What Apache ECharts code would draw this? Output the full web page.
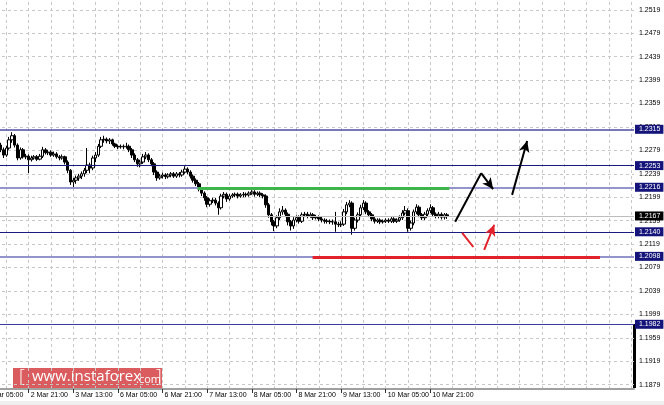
<!DOCTYPE html>
<html><head><meta charset="utf-8">
<script src="https://cdn.jsdelivr.net/npm/echarts@6/dist/echarts.min.js"></script>
<style>html,body{margin:0;padding:0;background:#fff;overflow:hidden;width:664px;height:405px}#c{position:absolute;left:-17px;top:0;width:681px;height:405px}</style>
</head><body><div id="c"></div>
<script>
// ---- data ----
const timeLabels = ['2 Mar 05:00','2 Mar 21:00','3 Mar 13:00','6 Mar 05:00','6 Mar 21:00','7 Mar 13:00','8 Mar 05:00','8 Mar 21:00','9 Mar 13:00','10 Mar 05:00','10 Mar 21:00'];
const slotCount = 234;     // hourly slots incl. future space
const firstCandleSlot = 6; // slot of the first visible candle
// [open, close, low, high]
const candles = [
[1.2288,1.2280,1.2276,1.2292],[1.2280,1.2271,1.2266,1.2284],[1.2271,1.2283,1.2268,1.2287],[1.2283,1.2297,1.2280,1.2302],
[1.2297,1.2304,1.2292,1.2310],[1.2304,1.2288,1.2284,1.2307],[1.2288,1.2266,1.2262,1.2291],[1.2266,1.2280,1.2263,1.2284],
[1.2280,1.2268,1.2265,1.2283],[1.2268,1.2269,1.2264,1.2273],[1.2269,1.2263,1.2240,1.2272],[1.2263,1.2266,1.2260,1.2270],
[1.2266,1.2268,1.2263,1.2271],[1.2268,1.2264,1.2261,1.2271],[1.2264,1.2269,1.2262,1.2273],[1.2269,1.2280,1.2266,1.2285],
[1.2280,1.2275,1.2272,1.2283],[1.2275,1.2276,1.2271,1.2280],[1.2276,1.2271,1.2268,1.2279],[1.2271,1.2273,1.2268,1.2277],
[1.2273,1.2268,1.2265,1.2276],[1.2268,1.2266,1.2262,1.2271],[1.2266,1.2268,1.2263,1.2272],[1.2268,1.2259,1.2255,1.2270],
[1.2259,1.2245,1.2240,1.2262],[1.2245,1.2225,1.2220,1.2247],[1.2225,1.2228,1.2214,1.2232],[1.2228,1.2232,1.2222,1.2236],
[1.2232,1.2235,1.2227,1.2239],[1.2235,1.2239,1.2230,1.2243],[1.2239,1.2245,1.2234,1.2249],[1.2245,1.2254,1.2240,1.2283],
[1.2254,1.2249,1.2240,1.2258],[1.2249,1.2266,1.2245,1.2270],[1.2266,1.2271,1.2259,1.2276],[1.2271,1.2286,1.2268,1.2290],
[1.2286,1.2297,1.2283,1.2302],[1.2297,1.2298,1.2292,1.2304],[1.2298,1.2295,1.2291,1.2301],[1.2295,1.2297,1.2290,1.2300],
[1.2297,1.2290,1.2287,1.2299],[1.2290,1.2286,1.2283,1.2292],[1.2286,1.2285,1.2281,1.2289],[1.2285,1.2286,1.2282,1.2289],
[1.2286,1.2285,1.2281,1.2289],[1.2285,1.2286,1.2282,1.2292],[1.2286,1.2280,1.2276,1.2289],[1.2280,1.2271,1.2266,1.2283],
[1.2271,1.2263,1.2259,1.2274],[1.2263,1.2256,1.2251,1.2266],[1.2256,1.2259,1.2250,1.2263],[1.2259,1.2268,1.2256,1.2273],
[1.2268,1.2271,1.2264,1.2276],[1.2271,1.2263,1.2259,1.2274],[1.2263,1.2256,1.2252,1.2266],[1.2256,1.2242,1.2237,1.2259],
[1.2242,1.2232,1.2227,1.2245],[1.2232,1.2235,1.2229,1.2239],[1.2235,1.2237,1.2231,1.2241],[1.2237,1.2234,1.2230,1.2240],
[1.2234,1.2237,1.2231,1.2240],[1.2237,1.2239,1.2233,1.2242],[1.2239,1.2235,1.2232,1.2242],[1.2235,1.2239,1.2232,1.2242],
[1.2239,1.2237,1.2233,1.2242],[1.2237,1.2242,1.2234,1.2246],[1.2242,1.2247,1.2239,1.2252],[1.2247,1.2242,1.2238,1.2250],
[1.2242,1.2235,1.2231,1.2245],[1.2235,1.2228,1.2224,1.2238],[1.2228,1.2222,1.2218,1.2231],[1.2222,1.2213,1.2209,1.2225],
[1.2213,1.2206,1.2201,1.2216],[1.2206,1.2198,1.2193,1.2209],[1.2198,1.2187,1.2182,1.2201],[1.2187,1.2193,1.2183,1.2197],
[1.2193,1.2194,1.2189,1.2198],[1.2194,1.2189,1.2185,1.2198],[1.2189,1.2181,1.2169,1.2192],[1.2181,1.2201,1.2178,1.2205],
[1.2201,1.2204,1.2197,1.2208],[1.2204,1.2196,1.2191,1.2207],[1.2196,1.2201,1.2193,1.2205],[1.2201,1.2203,1.2198,1.2206],
[1.2203,1.2204,1.2199,1.2207],[1.2204,1.2201,1.2197,1.2207],[1.2201,1.2203,1.2198,1.2206],[1.2203,1.2204,1.2199,1.2208],
[1.2204,1.2203,1.2199,1.2207],[1.2203,1.2206,1.2200,1.2209],[1.2206,1.2208,1.2203,1.2211],[1.2208,1.2204,1.2200,1.2211],
[1.2204,1.2206,1.2201,1.2209],[1.2206,1.2203,1.2199,1.2209],[1.2203,1.2201,1.2197,1.2206],[1.2201,1.2186,1.2181,1.2204],
[1.2186,1.2169,1.2164,1.2189],[1.2169,1.2157,1.2151,1.2172],[1.2157,1.2150,1.2141,1.2160],[1.2150,1.2164,1.2146,1.2168],
[1.2164,1.2174,1.2160,1.2180],[1.2174,1.2177,1.2169,1.2184],[1.2177,1.2170,1.2165,1.2180],[1.2170,1.2157,1.2151,1.2173],
[1.2157,1.2150,1.2142,1.2160],[1.2150,1.2160,1.2145,1.2165],[1.2160,1.2164,1.2156,1.2168],[1.2164,1.2158,1.2154,1.2168],
[1.2158,1.2169,1.2155,1.2173],[1.2169,1.2170,1.2165,1.2174],[1.2170,1.2167,1.2163,1.2174],[1.2167,1.2169,1.2164,1.2173],
[1.2169,1.2164,1.2160,1.2172],[1.2164,1.2165,1.2161,1.2169],[1.2165,1.2162,1.2158,1.2168],[1.2162,1.2160,1.2156,1.2166],
[1.2160,1.2158,1.2154,1.2163],[1.2158,1.2158,1.2154,1.2162],[1.2158,1.2157,1.2153,1.2161],[1.2157,1.2157,1.2152,1.2161],
[1.2157,1.2153,1.2140,1.2174],[1.2153,1.2152,1.2148,1.2157],[1.2152,1.2153,1.2148,1.2158],[1.2153,1.2174,1.2150,1.2179],
[1.2174,1.2186,1.2170,1.2191],[1.2186,1.2189,1.2182,1.2194],[1.2189,1.2146,1.2135,1.2192],[1.2146,1.2160,1.2142,1.2164],
[1.2160,1.2169,1.2156,1.2173],[1.2169,1.2181,1.2165,1.2186],[1.2181,1.2189,1.2177,1.2194],[1.2189,1.2174,1.2170,1.2192],
[1.2174,1.2169,1.2165,1.2177],[1.2169,1.2162,1.2158,1.2172],[1.2162,1.2158,1.2154,1.2165],[1.2158,1.2160,1.2155,1.2163],
[1.2160,1.2157,1.2153,1.2163],[1.2157,1.2158,1.2154,1.2161],[1.2158,1.2160,1.2155,1.2163],[1.2160,1.2158,1.2155,1.2163],
[1.2158,1.2162,1.2155,1.2165],[1.2162,1.2158,1.2155,1.2165],[1.2158,1.2160,1.2155,1.2163],[1.2160,1.2164,1.2157,1.2168],
[1.2164,1.2172,1.2160,1.2177],[1.2172,1.2176,1.2168,1.2184],[1.2176,1.2146,1.2140,1.2180],[1.2146,1.2155,1.2142,1.2159],
[1.2155,1.2174,1.2151,1.2178],[1.2174,1.2182,1.2170,1.2187],[1.2182,1.2169,1.2165,1.2185],[1.2169,1.2164,1.2160,1.2172],
[1.2164,1.2170,1.2160,1.2174],[1.2170,1.2176,1.2166,1.2180],[1.2176,1.2181,1.2172,1.2187],[1.2181,1.2170,1.2166,1.2184],
[1.2170,1.2167,1.2163,1.2173],[1.2167,1.2170,1.2163,1.2174],[1.2170,1.2165,1.2161,1.2173],[1.2165,1.2169,1.2161,1.2172],
[1.2169,1.2167,1.2162,1.2172]
];
const priceTicks = [1.1879,1.1919,1.1959,1.1999,1.2039,1.2079,1.2119,1.2159,1.2199,1.2239,1.2279,1.2319,1.2359,1.2399,1.2439,1.2479,1.2519];
const levelValues = [1.2315, 1.2253, 1.2216, 1.2140, 1.2098, 1.1982];
const currentPrice = 1.2167;
// partial horizontal lines: [fromSlot, toSlot, value]
const greenSegment = [76.6, 166.8, 1.2215];
const redSegment = [117.8, 220.8, 1.2097];
// drawn arrows: lists of [slot, price]
const blackPathUp = [[168.9, 1.2157], [178.2, 1.2240], [182.5, 1.2213]];
const blackArrowUp = [[189.3, 1.2203], [194.7, 1.2295]];
const redStroke = [[171.4, 1.2138], [175.4, 1.2114]];
const redArrowUp = [[179.3, 1.2109], [182.9, 1.2152]];

// ---- build ----
const OFF = 17; // the chart canvas starts 17px left of the page
const categories = [];
for (let i = 0; i < slotCount; i++) {
  categories.push(i % 16 === 0 && i / 16 < timeLabels.length ? timeLabels[i / 16] : 's' + i);
}
const candleData = categories.map((c, i) => {
  const j = i - firstCandleSlot;
  return j >= 0 && j < candles.length ? candles[j] : '-';
});
const labelShown = i => i % 16 === 0 && i / 16 < timeLabels.length;

const levelStyles = [
  {color: '#4b4ba6', width: 1.5},
  {color: '#1c1c80', width: 1},
  {color: '#9494cc', width: 2},
  {color: '#1c1c80', width: 1},
  {color: '#9494cc', width: 2},
  {color: '#3c3c9c', width: 1}
];
const boxLabel = (bg) => ({
  show: true, position: 'end', distance: 1, formatter: p => Number(p.value).toFixed(4),
  color: '#fff', backgroundColor: bg, fontSize: 7, lineHeight: 7,
  fontFamily: 'Liberation Sans', padding: [1, 3, 1, 4]
});
const levelLines = levelValues.map((v, i) => ({
  yAxis: v, lineStyle: {color: levelStyles[i].color, width: levelStyles[i].width, type: 'solid'},
  label: boxLabel('#14147a')
}));
levelLines.push({yAxis: currentPrice, lineStyle: {color: '#bdbdbd', width: 1, type: 'solid'}, label: boxLabel('#000')});

const seg = (a, b, color, width, arrow) => [
  {coord: a, symbol: 'none', lineStyle: {color, width, type: 'solid'}},
  {coord: b, symbol: arrow ? 'arrow' : 'none', symbolSize: arrow ? [8, 11] : 0}
];
const annotations = [
  seg([greenSegment[0], greenSegment[2]], [greenSegment[1], greenSegment[2]], '#3cb54a', 3, false),
  seg([redSegment[0], redSegment[2]], [redSegment[1], redSegment[2]], '#e3212b', 3, false),
  seg(blackPathUp[0], blackPathUp[1], '#000', 2, false),
  seg(blackPathUp[1], blackPathUp[2], '#000', 2, true),
  seg(blackArrowUp[0], blackArrowUp[1], '#000', 2, true),
  seg(redStroke[0], redStroke[1], '#e3212b', 2, false),
  seg(redArrowUp[0], redArrowUp[1], '#e3212b', 2, true)
];

const chart = echarts.init(document.getElementById('c'), null, {renderer: 'canvas'});
const axisFont = {fontSize: 7, fontFamily: 'Liberation Sans', color: '#000'};
chart.setOption({
  animation: false,
  backgroundColor: '#fff',
  grid: {left: 0, right: 30, top: 2, bottom: 16, containLabel: false},
  xAxis: [{
    type: 'category', data: categories, boundaryGap: false,
    axisLine: {show: true, lineStyle: {color: '#a0a0a0', width: 2}},
    axisTick: {show: true, interval: labelShown, length: 4, lineStyle: {color: '#333'}},
    axisLabel: Object.assign({interval: labelShown, align: 'left', margin: 3, padding: [0, 0, 0, 2]}, axisFont),
    splitLine: {show: true, interval: i => i % 8 === 0, lineStyle: {color: '#c8c8c8', type: [3, 3], width: 1}}
  }, {
    type: 'value', min: 0, max: slotCount - 1, show: false
  }],
  yAxis: {
    type: 'value', position: 'right', min: 1.18715, max: 1.25324, scale: true,
    axisLine: {show: true, lineStyle: {color: '#a0a0a0', width: 2}},
    axisTick: {show: true, length: 3, customValues: priceTicks, lineStyle: {color: '#333'}},
    axisLabel: Object.assign({margin: 5, customValues: priceTicks, formatter: v => v.toFixed(4)}, axisFont),
    splitLine: {show: true, lineStyle: {color: '#c8c8c8', type: [3, 3], width: 1}}
  },
  series: [{
    type: 'candlestick', data: candleData, barWidth: 3,
    itemStyle: {color: '#fff', color0: '#000', borderColor: '#000', borderColor0: '#000', borderWidth: 1},
    markLine: {silent: true, symbol: 'none', precision: 5, data: levelLines, animation: false}
  }, {
    type: 'line', xAxisIndex: 1, data: [[0, currentPrice]], showSymbol: false, lineStyle: {opacity: 0},
    markLine: {silent: true, precision: 5, data: annotations, label: {show: false}, animation: false}
  }],
  graphic: [
    {type: 'rect', left: OFF, top: 401, shape: {width: 664, height: 4}, style: {fill: '#efefef'}},
    {type: 'rect', left: OFF + 633, top: 324, shape: {width: 3, height: 64}, style: {fill: '#000'}},
    {type: 'group', left: OFF + 13, top: 368, children: [
      {type: 'rect', shape: {width: 149, height: 21}, style: {fill: 'rgba(214,70,72,0.88)'}},
      {type: 'text', left: 6, top: 0, style: {text: '[', fill: '#fff', font: '300 18px "Open Sans"'}},
      {type: 'text', left: 19, top: 1, style: {text: 'www.instaforex', fill: '#fff', font: '15px "Open Sans"'}},
      {type: 'text', left: 123, top: 6, style: {text: '.com', fill: '#fff', font: '11px "Open Sans"'}},
      {type: 'text', left: 143, top: 0, style: {text: ']', fill: '#fff', font: '300 18px "Open Sans"'}}
    ]}
  ]
});
</script></body></html>
